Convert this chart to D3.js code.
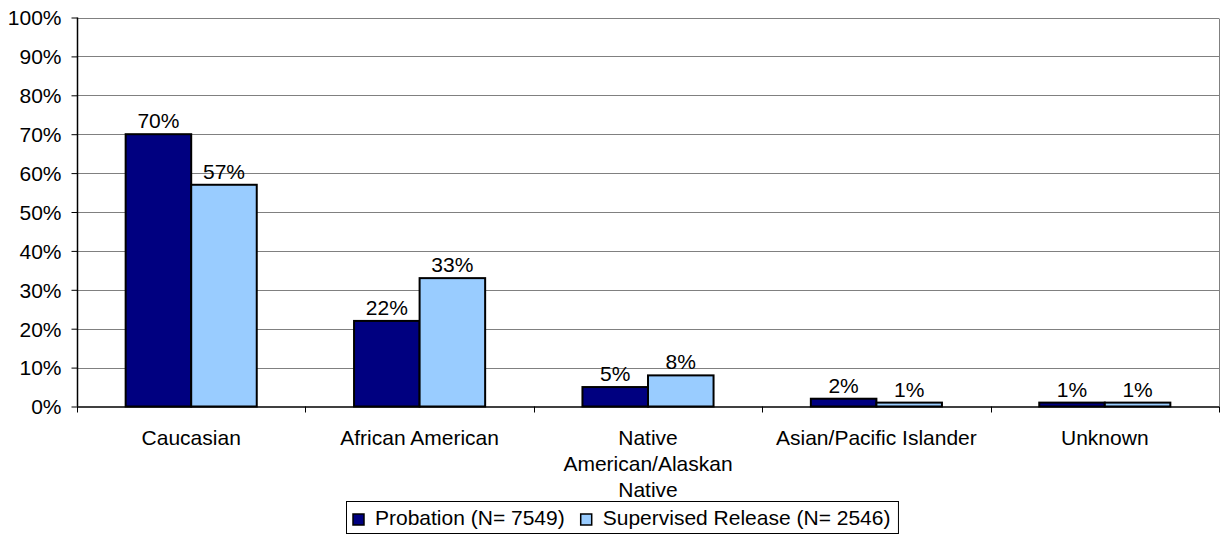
<!DOCTYPE html>
<html>
<head>
<meta charset="utf-8">
<script src="https://cdn.jsdelivr.net/npm/d3@7"></script>
<style>
  body { margin: 0; background: #fff; }
  text { font-family: "Liberation Sans", Arial, sans-serif; fill: #000; }
</style>
</head>
<body>
<div class="myChart"></div>
<script>
var categories = ["Caucasian", "African American", "Native American/Alaskan Native", "Asian/Pacific Islander", "Unknown"];
var categoryLines = [["Caucasian"], ["African American"], ["Native", "American/Alaskan", "Native"], ["Asian/Pacific Islander"], ["Unknown"]];
var probation = [70, 22, 5, 2, 1];
var supervised = [57, 33, 8, 1, 1];
var seriesNames = ["Probation (N= 7549)", "Supervised Release (N= 2546)"];
var yTicks = [0, 10, 20, 30, 40, 50, 60, 70, 80, 90, 100];

var svgWidth = 1222;
var svgHeight = 535;
var colors = ["#000080", "#99CCFF"];

var plotLeft = 77, plotRight = 1219, plotTop = 17.5, plotBottom = 406.5;
var fontSize = "21px";

var svg = d3.select(".myChart")
  .append("svg")
  .attr("width", svgWidth)
  .attr("height", svgHeight);

var x = d3.scaleBand().domain(categories).range([plotLeft, plotRight]).paddingInner(0).paddingOuter(0);
var y = d3.scaleLinear().domain([0, 100]).range([plotBottom, plotTop]);

// gridlines
svg.append("g").selectAll("line")
  .data(yTicks.filter(function(d) { return d > 0; }))
  .enter().append("line")
  .attr("x1", plotLeft).attr("x2", plotRight)
  .attr("y1", function(d) { return Math.round(y(d)) + 0.5; })
  .attr("y2", function(d) { return Math.round(y(d)) + 0.5; })
  .attr("stroke", "#808080").attr("stroke-width", 1);

// right border
svg.append("line")
  .attr("x1", plotRight + 0.5).attr("x2", plotRight + 0.5)
  .attr("y1", Math.round(plotTop) + 0.5).attr("y2", plotBottom)
  .attr("stroke", "#808080");

var barW = x.bandwidth() * 0.287;
var data = [];
categories.forEach(function(c, i) {
  data.push({ cat: c, s: 0, v: probation[i] });
  data.push({ cat: c, s: 1, v: supervised[i] });
});

svg.append("g").selectAll("rect")
  .data(data)
  .enter().append("rect")
  .attr("x", function(d) { return x(d.cat) + x.bandwidth() / 2 - barW + d.s * barW; })
  .attr("y", function(d) { return y(d.v); })
  .attr("width", barW)
  .attr("height", function(d) { return y(0) - y(d.v); })
  .attr("fill", function(d) { return colors[d.s]; })
  .attr("stroke", "#000").attr("stroke-width", 2);

svg.append("g").selectAll("text")
  .data(data)
  .enter().append("text")
  .attr("x", function(d) { return x(d.cat) + x.bandwidth() / 2 - barW / 2 + d.s * barW; })
  .attr("y", function(d) { return y(d.v) - 6; })
  .attr("text-anchor", "middle")
  .style("font-size", fontSize)
  .text(function(d) { return d.v + "%"; });

// y axis
var leftAxis = d3.axisLeft(y).tickValues(yTicks).tickSize(6).tickFormat(function(d) { return d + "%"; });
var gy = svg.append("g").attr("transform", "translate(" + (plotLeft + 0.5) + ",0)").call(leftAxis);
gy.selectAll("text").style("font-size", fontSize).attr("x", -16).attr("dy", "0.35em");
gy.select(".domain").attr("stroke", "#000").attr("stroke-width", 1.5).attr("d", "M0," + plotTop + "V" + plotBottom);
gy.selectAll(".tick line").attr("stroke", "#000");

// x axis line and ticks at category boundaries
svg.append("line")
  .attr("x1", plotLeft).attr("x2", plotRight)
  .attr("y1", plotBottom + 0.5).attr("y2", plotBottom + 0.5)
  .attr("stroke", "#000").attr("stroke-width", 1.5);
var bounds = categories.map(function(c) { return x(c); }).concat([plotRight]);
svg.append("g").selectAll("line")
  .data(bounds)
  .enter().append("line")
  .attr("x1", function(d) { return Math.round(d) + 0.5; })
  .attr("x2", function(d) { return Math.round(d) + 0.5; })
  .attr("y1", plotBottom).attr("y2", plotBottom + 6)
  .attr("stroke", "#000");

// category labels
var catG = svg.append("g").selectAll("text")
  .data(categories)
  .enter().append("text")
  .attr("x", function(d) { return x(d) + x.bandwidth() / 2; })
  .attr("y", 445)
  .attr("text-anchor", "middle")
  .style("font-size", fontSize);
catG.each(function(d, i) {
  var t = d3.select(this);
  categoryLines[i].forEach(function(line, j) {
    t.append("tspan")
      .attr("x", x(d) + x.bandwidth() / 2)
      .attr("dy", j === 0 ? 0 : 26)
      .text(line);
  });
});

// legend
var leg = svg.append("g");
var legBox = leg.append("rect")
  .attr("x", 346.5).attr("y", 501.5)
  .attr("height", 32)
  .attr("fill", "#fff").attr("stroke", "#000");
var cursor = 353;
seriesNames.forEach(function(name, i) {
  leg.append("rect")
    .attr("x", cursor).attr("y", 514)
    .attr("width", 11).attr("height", 11)
    .attr("fill", colors[i]).attr("stroke", "#000").attr("stroke-width", 1.5);
  var t = leg.append("text")
    .attr("x", cursor + 22).attr("y", 525)
    .style("font-size", fontSize)
    .text(name);
  cursor += 22 + t.node().getComputedTextLength() + 16;
});
legBox.attr("width", cursor - 16 + 8 - 346.5);
</script>
</body>
</html>
